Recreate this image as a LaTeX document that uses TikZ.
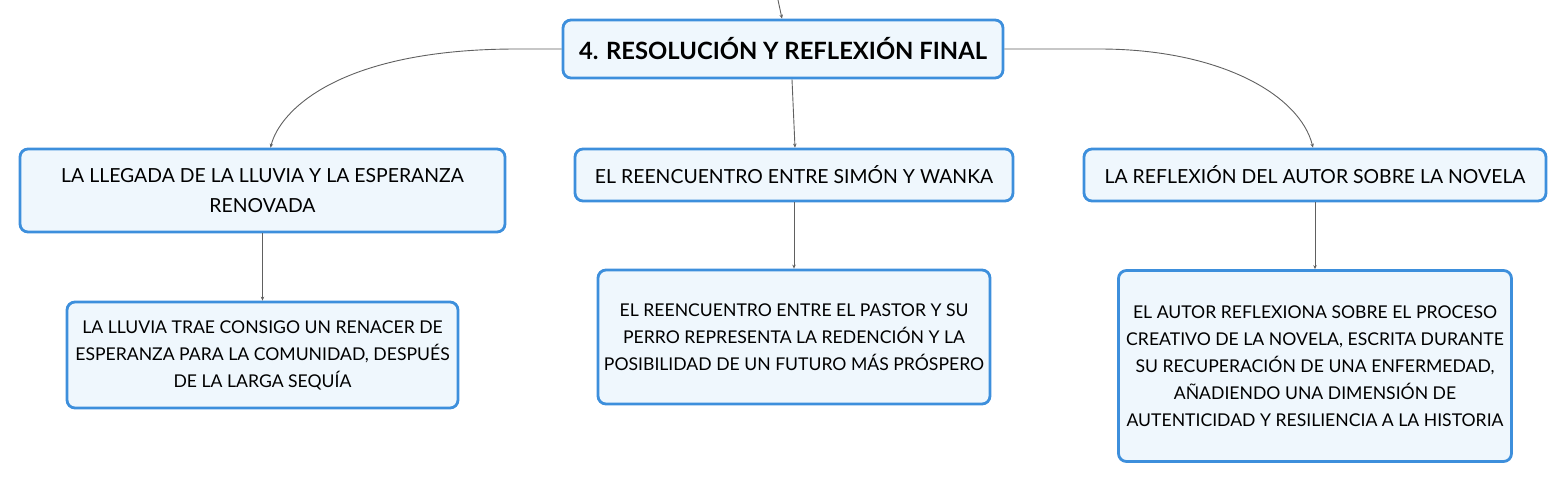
\documentclass[tikz,border=0pt]{standalone}
\usepackage{fontspec}
\setmainfont{Lato}
\usetikzlibrary{arrows.meta,calc}
\definecolor{boxborder}{HTML}{3D8FDC}
\definecolor{boxfill}{HTML}{EFF7FD}
\definecolor{linkcol}{HTML}{606060}
\begin{document}
\begin{tikzpicture}[x=1pt,y=-1pt,
  box/.style={draw=boxborder,fill=boxfill,line width=2.8pt,rounded corners=8pt,align=center,inner sep=0pt,font=\fontsize{17.6}{27}\selectfont},
  midbox/.style={box,font=\fontsize{19.4}{30}\selectfont},
  link/.style={draw=linkcol,line width=0.9pt,-{Stealth[length=4pt,width=3.5pt]}}]
\useasboundingbox (0,0) rectangle (1567,483);
\node[box,minimum width=440pt,minimum height=58pt,font=\fontsize{23.8}{27}\selectfont\bfseries] (root) at (783,49) {4. RESOLUCIÓN Y REFLEXIÓN FINAL};
\node[midbox,minimum width=485pt,minimum height=83pt] (A) at (262.5,190.5) {LA LLEGADA DE LA LLUVIA Y LA ESPERANZA\\RENOVADA};
\node[midbox,minimum width=438pt,minimum height=52pt] (B) at (794,175) {EL REENCUENTRO ENTRE SIMÓN Y WANKA};
\node[midbox,minimum width=462pt,minimum height=52pt] (C) at (1315,175) {LA REFLEXIÓN DEL AUTOR SOBRE LA NOVELA};
\node[box,minimum width=391pt,minimum height=106pt] (A1) at (262.5,355) {LA LLUVIA TRAE CONSIGO UN RENACER DE\\ESPERANZA PARA LA COMUNIDAD, DESPUÉS\\DE LA LARGA SEQUÍA};
\node[box,minimum width=392pt,minimum height=134pt] (B1) at (794,337) {EL REENCUENTRO ENTRE EL PASTOR Y SU\\PERRO REPRESENTA LA REDENCIÓN Y LA\\POSIBILIDAD DE UN FUTURO MÁS PRÓSPERO};
\node[box,minimum width=393pt,minimum height=191pt] (C1) at (1315,366) {EL AUTOR REFLEXIONA SOBRE EL PROCESO\\CREATIVO DE LA NOVELA, ESCRITA DURANTE\\SU RECUPERACIÓN DE UNA ENFERMEDAD,\\AÑADIENDO UNA DIMENSIÓN DE\\AUTENTICIDAD Y RESILIENCIA A LA HISTORIA};
\coordinate (top) at (778,0);
\draw[link] (top) -- ([xshift=-1pt]root.north);
\draw[link] (root.west) -- ++(-45,0) .. controls (340,49) and (280,110) .. ([xshift=8pt]A.north);
\draw[link] (root.east) -- ++(95,0) .. controls (1220,49) and (1300,95) .. ([xshift=-2pt]C.north);
\draw[link] ([xshift=9pt]root.south) -- ([xshift=1pt]B.north);
\draw[link] (A.south) -- (A1.north);
\draw[link] (B.south) -- (B1.north);
\draw[link] (C.south) -- (C1.north);
\end{tikzpicture}
\end{document}
